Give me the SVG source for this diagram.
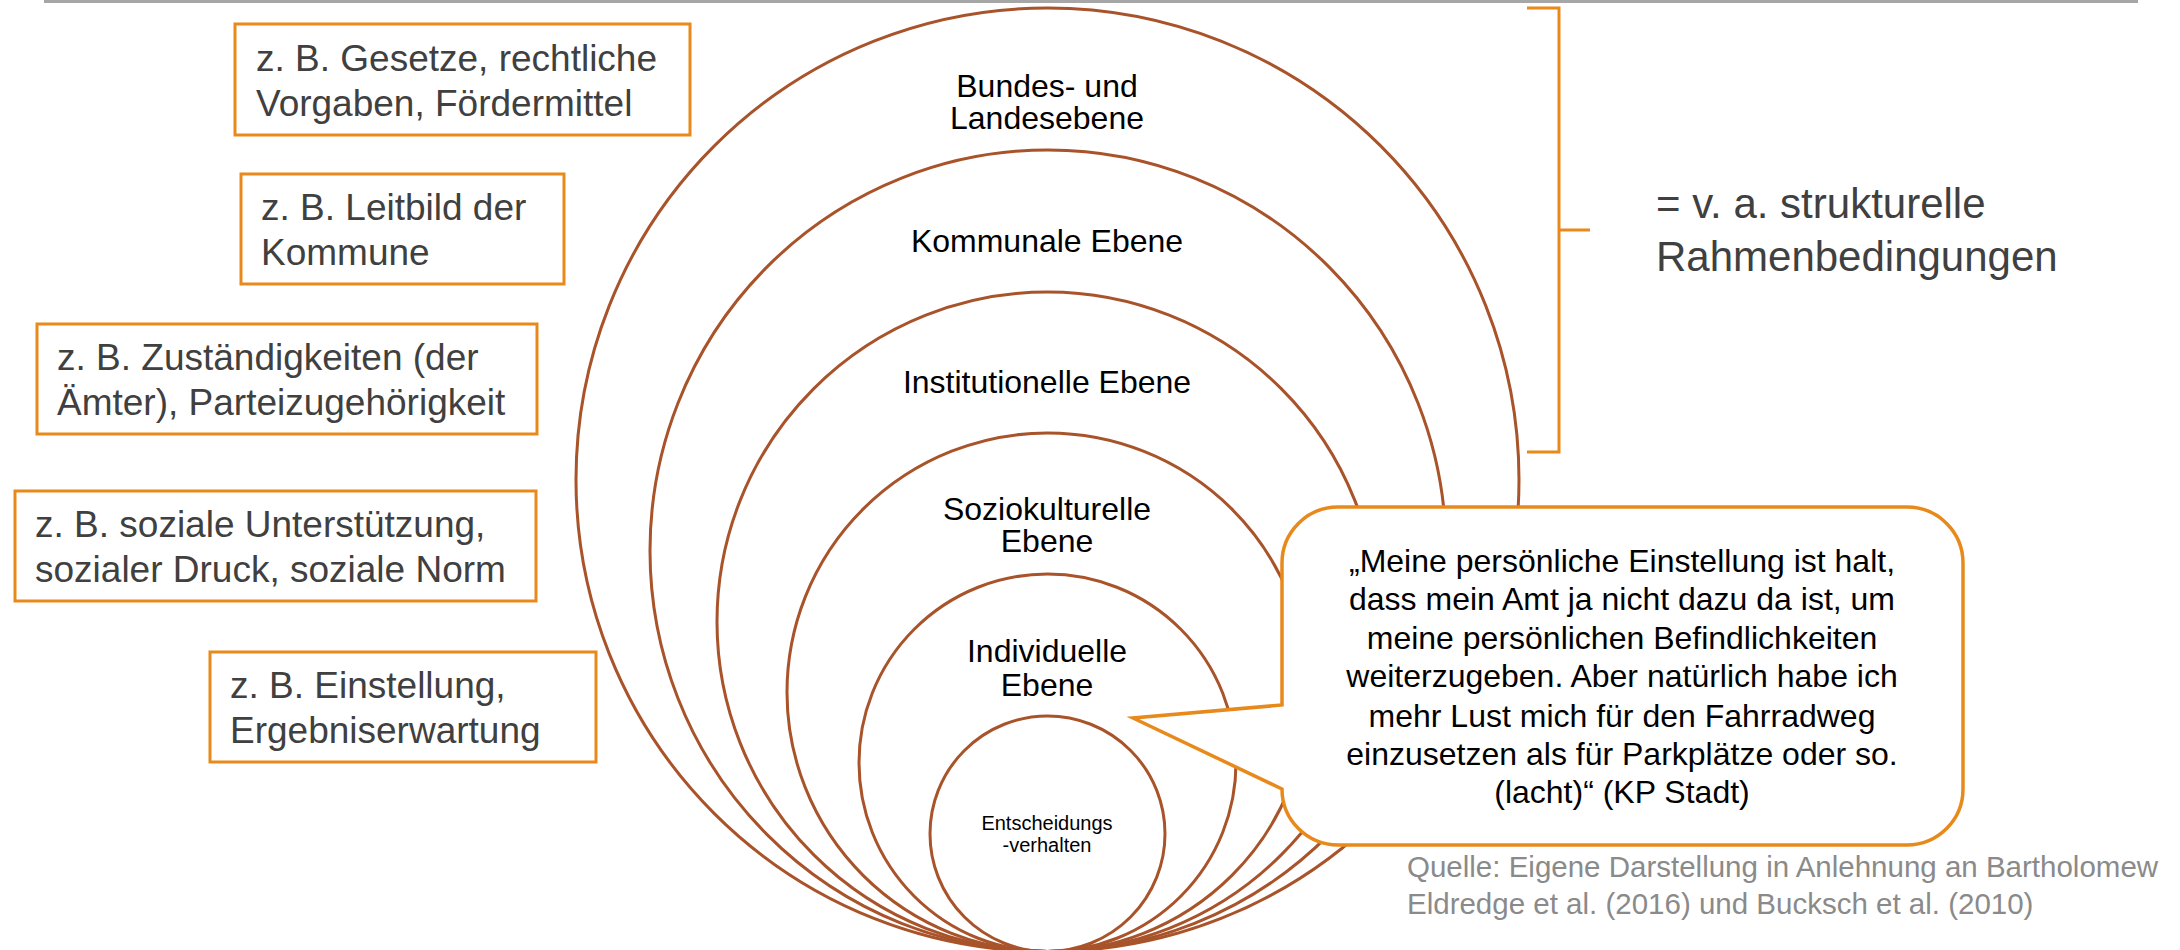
<svg xmlns="http://www.w3.org/2000/svg" width="2180" height="950" viewBox="0 0 2180 950">
  <style>
    .ring { fill: none; stroke: #A9532A; stroke-width: 3; }
    .box { fill: #FFFFFF; stroke: #E8891B; stroke-width: 3; }
    .boxtxt { font-family: "Liberation Sans", Arial, sans-serif; font-size: 37px; fill: #404040; }
    .lvl { font-family: "Liberation Sans", Arial, sans-serif; font-size: 32px; fill: #000000; text-anchor: middle; }
    .lvl-small { font-family: "Liberation Sans", Arial, sans-serif; font-size: 20px; fill: #000000; text-anchor: middle; }
    .quote { font-family: "Liberation Sans", Arial, sans-serif; font-size: 32px; fill: #000000; text-anchor: middle; }
    .brace { fill: none; stroke: #E8891B; stroke-width: 3; }
    .side { font-family: "Liberation Sans", Arial, sans-serif; font-size: 42px; fill: #404040; }
    .src { font-family: "Liberation Sans", Arial, sans-serif; font-size: 29.5px; fill: #8A8A8A; }
  </style>

  <rect width="2180" height="950" fill="#FFFFFF"/>
  <!-- header rule -->
  <line x1="44" y1="1.5" x2="2138" y2="1.5" stroke="#A6A6A6" stroke-width="3"/>

  <!-- nested levels, all touching at the bottom -->
  <g id="level-bund">
    <ellipse class="ring" cx="1047.5" cy="479.75" rx="471.5" ry="471.75"/>
    <text class="lvl" x="1047" y="97">Bundes- und</text>
    <text class="lvl" x="1047" y="129">Landesebene</text>
  </g>
  <g id="level-kommune">
    <ellipse class="ring" cx="1048" cy="550.75" rx="398" ry="400.75"/>
    <text class="lvl" x="1047" y="252">Kommunale Ebene</text>
  </g>
  <g id="level-institution">
    <ellipse class="ring" cx="1047.5" cy="621.75" rx="330.5" ry="329.75"/>
    <text class="lvl" x="1047" y="393">Institutionelle Ebene</text>
  </g>
  <g id="level-sozio">
    <ellipse class="ring" cx="1047.5" cy="692.25" rx="260.5" ry="259.25"/>
    <text class="lvl" x="1047" y="520">Soziokulturelle</text>
    <text class="lvl" x="1047" y="552">Ebene</text>
  </g>
  <g id="level-individuum">
    <ellipse class="ring" cx="1047.5" cy="762.75" rx="188.5" ry="188.75"/>
    <text class="lvl" x="1047" y="662">Individuelle</text>
    <text class="lvl" x="1047" y="696">Ebene</text>
  </g>
  <g id="level-verhalten">
    <ellipse class="ring" cx="1047.5" cy="833.75" rx="117.5" ry="117.75"/>
    <text class="lvl-small" x="1047" y="830">Entscheidungs</text>
    <text class="lvl-small" x="1047" y="852">-verhalten</text>
  </g>

  <!-- example boxes on the left -->
  <g id="ex-bund">
    <rect class="box" x="235" y="24" width="455" height="111"/>
    <text class="boxtxt" x="256" y="71">z. B. Gesetze, rechtliche</text>
    <text class="boxtxt" x="256" y="116">Vorgaben, Fördermittel</text>
  </g>
  <g id="ex-kommune">
    <rect class="box" x="241" y="174" width="323" height="110"/>
    <text class="boxtxt" x="261" y="220">z. B. Leitbild der</text>
    <text class="boxtxt" x="261" y="265">Kommune</text>
  </g>
  <g id="ex-institution">
    <rect class="box" x="37" y="324" width="500" height="110"/>
    <text class="boxtxt" x="57" y="370">z. B. Zuständigkeiten (der</text>
    <text class="boxtxt" x="57" y="415">Ämter), Parteizugehörigkeit</text>
  </g>
  <g id="ex-sozio">
    <rect class="box" x="15" y="491" width="521" height="110"/>
    <text class="boxtxt" x="35" y="537">z. B. soziale Unterstützung,</text>
    <text class="boxtxt" x="35" y="582">sozialer Druck, soziale Norm</text>
  </g>
  <g id="ex-individuum">
    <rect class="box" x="210" y="652" width="386" height="110"/>
    <text class="boxtxt" x="230" y="698">z. B. Einstellung,</text>
    <text class="boxtxt" x="230" y="743">Ergebniserwartung</text>
  </g>

  <!-- brace grouping the three outer levels -->
  <g id="connectors">
    <path class="brace" d="M1527 8 H1559 V452 H1527 M1559 230 H1590"/>
  </g>
  <g id="structural-note">
    <text class="side" x="1656" y="218">= v. a. strukturelle</text>
    <text class="side" x="1656" y="271">Rahmenbedingungen</text>
  </g>

  <!-- speech bubble with interview quote -->
  <g id="quote">
    <path fill="#FFFFFF" stroke="#E8891B" stroke-width="3.5" stroke-linejoin="miter"
          d="M1338 507 H1907 A56 56 0 0 1 1963 563 V789 A56 56 0 0 1 1907 845 H1338 A56 56 0 0 1 1282 789 L1133 718 L1282 705 V563 A56 56 0 0 1 1338 507 Z"/>
    <text class="quote" x="1622" y="572">„Meine persönliche Einstellung ist halt,</text>
    <text class="quote" x="1622" y="610">dass mein Amt ja nicht dazu da ist, um</text>
    <text class="quote" x="1622" y="649">meine persönlichen Befindlichkeiten</text>
    <text class="quote" x="1622" y="687">weiterzugeben. Aber natürlich habe ich</text>
    <text class="quote" x="1622" y="727">mehr Lust mich für den Fahrradweg</text>
    <text class="quote" x="1622" y="765">einzusetzen als für Parkplätze oder so.</text>
    <text class="quote" x="1622" y="803">(lacht)“ (KP Stadt)</text>
  </g>

  <!-- source line -->
  <g id="source">
    <text class="src" x="1407" y="877">Quelle: Eigene Darstellung in Anlehnung an Bartholomew</text>
    <text class="src" x="1407" y="914">Eldredge et al. (2016) und Bucksch et al. (2010)</text>
  </g>
</svg>
